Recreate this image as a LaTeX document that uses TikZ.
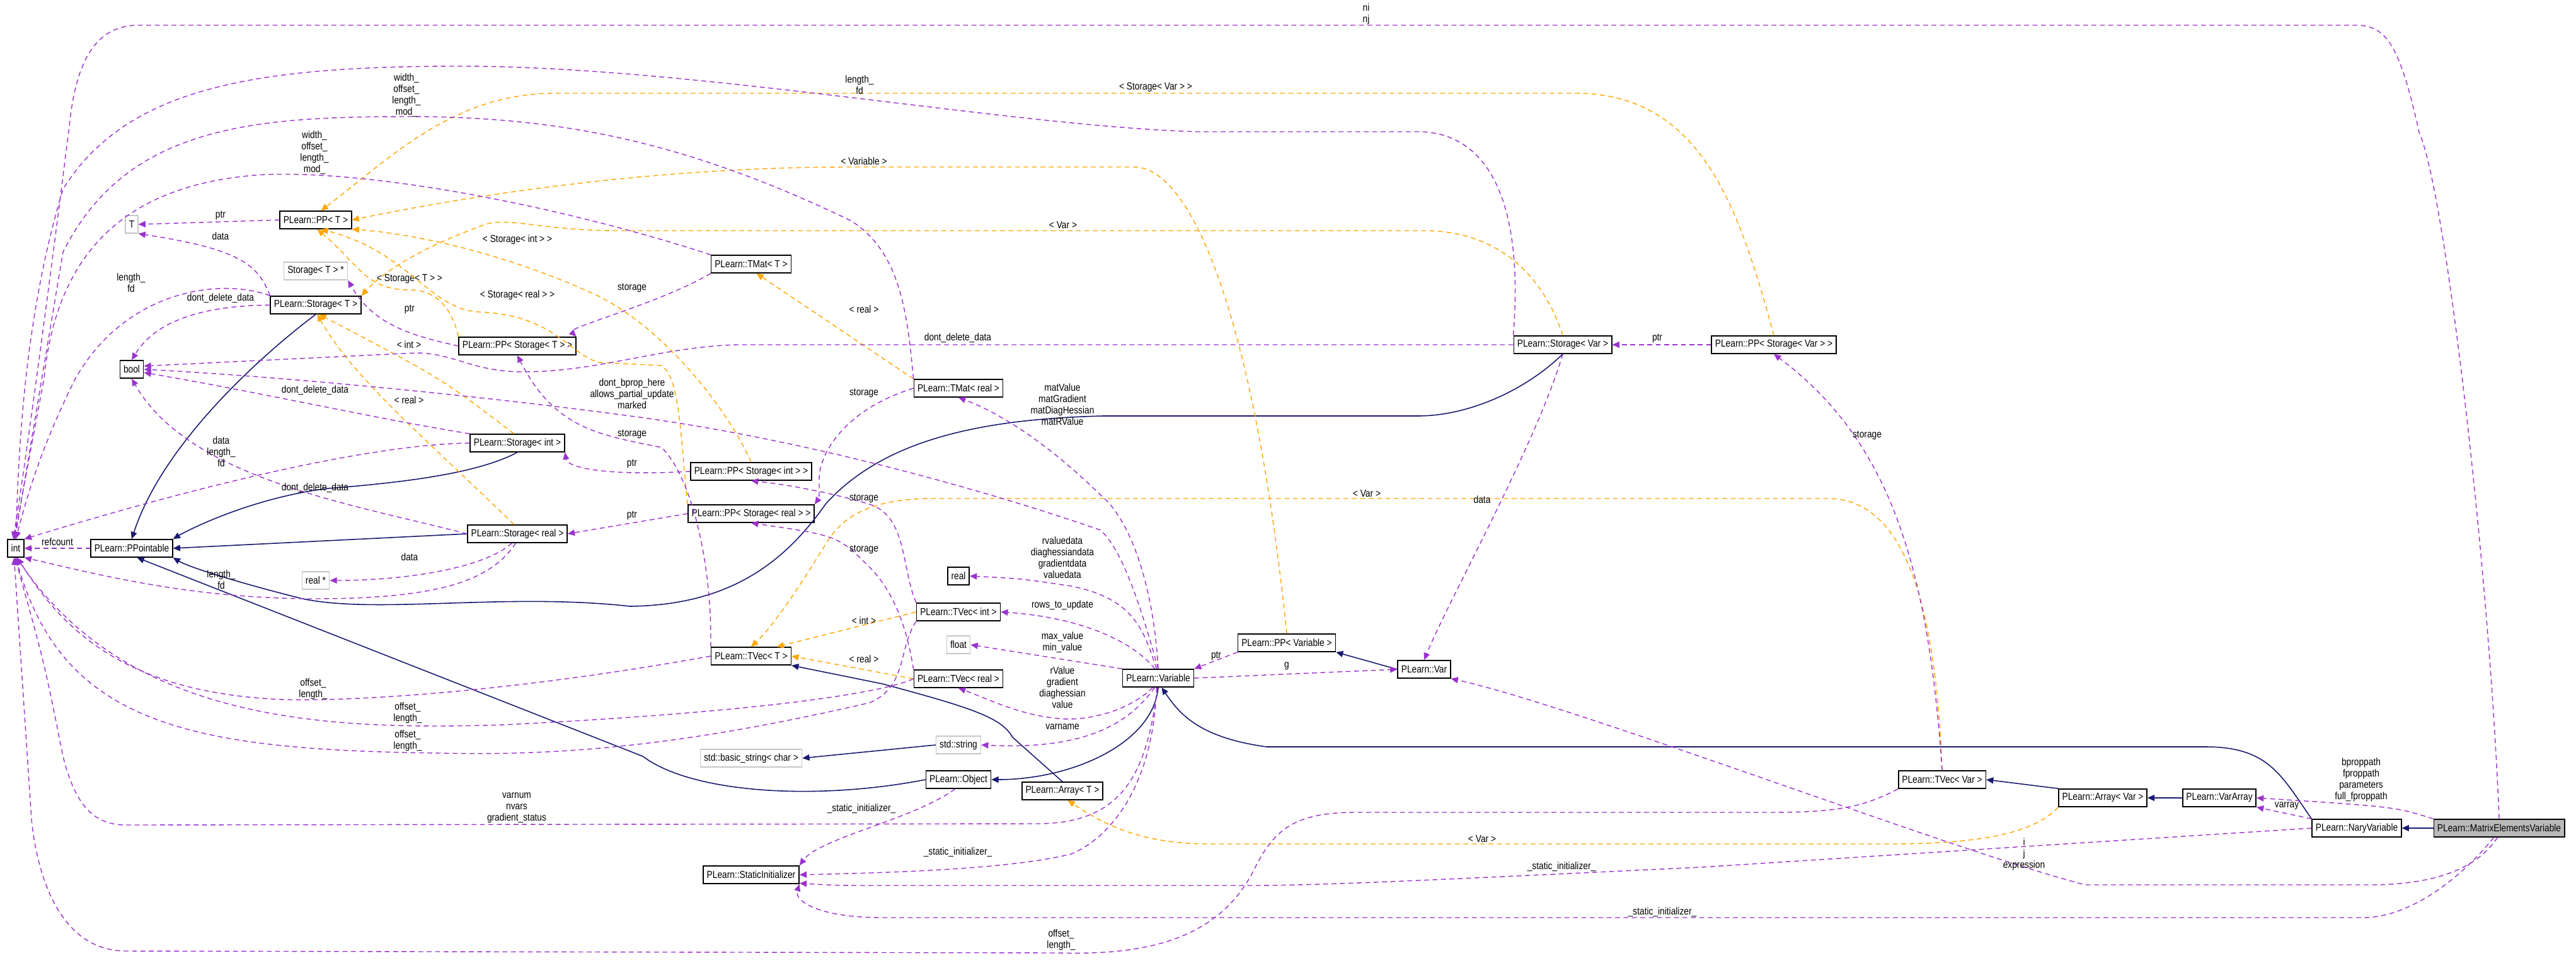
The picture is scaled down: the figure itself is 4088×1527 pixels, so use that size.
\documentclass[tikz,border=0pt]{standalone}
\usepackage{fontspec}
\usetikzlibrary{arrows.meta}
\newfontfamily\lf{Liberation Sans}[FakeStretch=0.85]
\newcommand\lab{\lf\fontsize{4.6}{5.1}\selectfont}
\definecolor{dorch}{HTML}{9A32CD}
\definecolor{navyb}{HTML}{191970}
\definecolor{orng}{HTML}{FFA500}
\tikzset{
 box/.style={draw, line width=0.45pt, minimum height=0.28cm, inner xsep=1.6pt, inner ysep=0pt, font=\lab, fill=white},
 gbox/.style={box, draw=gray!45},
 mem/.style={draw=dorch, line width=0.4pt, dash pattern=on 2.2pt off 1.6pt, -{Triangle[length=3.2pt,width=2.8pt]}},
 tpl/.style={draw=orng, line width=0.4pt, dash pattern=on 2.2pt off 1.6pt, -{Triangle[length=3.2pt,width=2.8pt]}},
 inh/.style={draw=navyb, line width=0.45pt, -{Triangle[length=3.2pt,width=2.8pt]}},
 lbl/.style={font=\lab, align=center, inner sep=0pt}
}
\begin{document}
\begin{tikzpicture}[x=0.01cm,y=-0.01cm]
\useasboundingbox (0,0) rectangle (4088,1527);
% nodes
\node[box] (int) at (25,870) {int};
\node[box] (ppt) at (209,870) {PLearn::PPointable};
\node[gbox] (tT) at (209,356) {T};
\node[box] (ppT) at (501,349) {PLearn::PP< T >};
\node[gbox] (sTp) at (501,430) {Storage< T > *};
\node[box] (sT) at (501,484) {PLearn::Storage< T >};
\node[box] (bool) at (209,586) {bool};
\node[box] (ppST) at (821,549) {PLearn::PP< Storage< T > >};
\node[box] (sI) at (821,703) {PLearn::Storage< int >};
\node[box] (sR) at (821,847) {PLearn::Storage< real >};
\node[gbox] (realp) at (501,921) {real *};
\node[box] (tmT) at (1192,419) {PLearn::TMat< T >};
\node[box] (tmR) at (1521,616) {PLearn::TMat< real >};
\node[box] (ppSI) at (1192,748) {PLearn::PP< Storage< int > >};
\node[box] (ppSR) at (1192,815) {PLearn::PP< Storage< real > >};
\node[box] (real) at (1521,914) {real};
\node[box] (tvI) at (1521,971) {PLearn::TVec< int >};
\node[gbox] (float) at (1521,1023) {float};
\node[box] (tvT) at (1192,1041) {PLearn::TVec< T >};
\node[box] (tvR) at (1521,1077) {PLearn::TVec< real >};
\node[box] (var) at (1838,1076) {PLearn::Variable};
\node[box] (ppV) at (2042,1020) {PLearn::PP< Variable >};
\node[box] (Var) at (2260,1062) {PLearn::Var};
\node[box] (sV) at (2480,547) {PLearn::Storage< Var >};
\node[box] (ppSV) at (2815,547) {PLearn::PP< Storage< Var > >};
\node[gbox] (str) at (1521,1182) {std::string};
\node[gbox] (bstr) at (1192,1203) {std::basic\_string< char >};
\node[box] (obj) at (1521,1237) {PLearn::Object};
\node[box] (arrT) at (1686,1255) {PLearn::Array< T >};
\node[box] (si) at (1192,1388) {PLearn::StaticInitializer};
\node[box] (tV) at (3082,1237) {PLearn::TVec< Var >};
\node[box] (aV) at (3337,1266) {PLearn::Array< Var >};
\node[box] (va) at (3522,1266) {PLearn::VarArray};
\node[box] (nary) at (3740,1314) {PLearn::NaryVariable};
\node[box, fill=gray!55] (mev) at (3966,1314) {PLearn::MatrixElementsVariable};

% inheritance
\draw[inh] (sT.south) .. controls (420,560) and (260,700) .. (ppt.north);
\draw[inh] (sI.south) .. controls (760,750) and (650,765) .. (520,775) .. controls (400,790) and (300,840) .. (ppt.north east);
\draw[inh] (sR.west) -- (ppt.east);
\draw[inh] (sV.south) .. controls (2420,620) and (2330,660) .. (2250,660) -- (1750,660) .. controls (1550,665) and (1400,700) .. (1310,800) .. controls (1240,900) and (1150,960) .. (1000,962) .. controls (800,940) and (600,975) .. (480,950) .. controls (380,925) and (300,900) .. (ppt.south east);
\draw[inh] (obj.west) .. controls (1300,1270) and (1100,1260) .. (1020,1200) -- (ppt.-60);
\draw[inh] (arrT.north) -- (1607,1170) .. controls (1590,1140) and (1550,1125) .. (1400,1085) -- (tvT.south east);
\draw[inh] (var.south) .. controls (1830,1180) and (1700,1237) .. (obj.east);
\draw[inh] (str.west) -- (bstr.east);
\draw[inh] (Var.west) -- (ppV.south east);
\draw[inh] (nary.north west) .. controls (3620,1230) and (3600,1185) .. (3500,1185) -- (2010,1185) .. controls (1900,1170) and (1870,1130) .. (var.-70);
\draw[inh] (mev.west) -- (nary.east);
\draw[inh] (va.west) -- (aV.east);
\draw[inh] (aV.north west) -- (tV.east);

% templates
\draw[tpl] (ppSV.north) .. controls (2760,330) and (2700,148) .. (2500,148) -- (880,148) .. controls (720,148) and (620,250) .. (ppT.60);
\node[lbl] at (1834,139) {< Storage< Var > >};
\draw[tpl] (ppV.north) .. controls (1990,500) and (1890,265) .. (1800,265) -- (1350,265) .. controls (1000,265) and (700,320) .. (ppT.east);
\node[lbl] at (1371,256) {< Variable >};
\draw[tpl] (sV.north) .. controls (2450,440) and (2380,366) .. (2260,366) -- (980,366) .. controls (850,366) and (800,340) .. (760,360) .. controls (650,400) and (600,440) .. (sT.north east);
\node[lbl] at (1687,357) {< Var >};
\draw[tpl] (ppSI.north) .. controls (1150,640) and (1050,520) .. (950,470) .. controls (800,400) and (650,370) .. (ppT.south east);
\node[lbl] at (821,380) {< Storage< int > >};
\draw[tpl] (ppST.north west) .. controls (720,500) and (700,460) .. (650,460) .. controls (580,460) and (570,420) .. (ppT.-80);
\node[lbl] at (650,443) {< Storage< T > >};
\draw[tpl] (ppSR.north west) .. controls (1080,700) and (1080,600) .. (1050,580) -- (950,575) .. controls (900,560) and (880,500) .. (760,495) .. controls (680,490) and (650,400) .. (ppT.-60);
\node[lbl] at (821,468) {< Storage< real > >};
\draw[tpl] (sI.110) .. controls (700,600) .. (sT.-70);
\node[lbl] at (649,547) {< int >};
\draw[tpl] (sR.110) .. controls (680,700) and (560,600) .. (sT.-80);
\node[lbl] at (649,635) {< real >};
\draw[tpl] (tmR.north west) -- (tmT.-60);
\node[lbl] at (1371,491) {< real >};
\draw[tpl] (tvI.west) -- (tvT.20);
\node[lbl] at (1371,985) {< int >};
\draw[tpl] (tvR.west) -- (tvT.east);
\node[lbl] at (1371,1046) {< real >};
\draw[tpl] (tV.north) .. controls (3070,900) and (3000,791) .. (2900,791) -- (1480,791) .. controls (1340,791) and (1320,850) .. (1300,880) .. controls (1250,960) and (1220,1000) .. (tvT.north);
\node[lbl] at (2169,783) {< Var >};
\draw[tpl] (aV.south west) .. controls (3230,1320) and (3150,1339) .. (3000,1339) -- (1917,1339) .. controls (1800,1339) and (1740,1300) .. (arrT.-60);
\node[lbl] at (2352,1331) {< Var >};

% members
\draw[mem] (ppT.west) -- (tT.east); \node[lbl] at (350,342) {ptr};
\draw[mem] (sT.north west) .. controls (410,420) and (380,395) .. (tT.south east); \node[lbl] at (350,375) {data};
\draw[mem] (ppST.west) .. controls (640,530) and (590,510) .. (sTp.south east); \node[lbl] at (650,491) {ptr};
\draw[mem] (sT.west) .. controls (300,485) and (240,520) .. (bool.north); \node[lbl] at (350,473) {dont\_delete\_data};
\draw[mem] (sT.north west) .. controls (350,440) and (200,460) .. (120,600) .. controls (60,720) and (40,800) .. (int.north); \node[lbl] at (208,449) {length\_\\fd};
\draw[mem] (tmT.south west) .. controls (1050,480) and (900,520) .. (ppST.north east); \node[lbl] at (1003,457) {storage};
\draw[mem] (tmT.north west) .. controls (900,330) and (600,270) .. (420,277) .. controls (200,290) and (90,400) .. (70,600) -- (int.100); \node[lbl] at (499,242) {width\_\\offset\_\\length\_\\mod\_};
\draw[mem] (tmR.north west) .. controls (1440,500) and (1430,400) .. (1350,350) .. controls (1100,230) and (900,185) .. (650,185) .. controls (400,185) and (200,200) .. (100,400) -- (int.95); \node[lbl] at (645,151) {width\_\\offset\_\\length\_\\mod\_};
\draw[mem] (sV.north west) .. controls (2420,300) and (2350,209) .. (2250,209) -- (1900,209) .. controls (1600,200) and (1100,105) .. (730,105) .. controls (400,105) and (200,140) .. (100,300) .. controls (40,500) and (30,700) .. (int.north); \node[lbl] at (1364,135) {length\_\\fd};
\draw[mem] (sV.west) -- (1170,547) .. controls (1050,550) and (950,590) .. (830,590) .. controls (750,590) and (720,560) .. (660,560) -- (bool.15); \node[lbl] at (1520,536) {dont\_delete\_data};
\draw[mem] (ppSV.west) -- (sV.east); \node[lbl] at (2630,537) {ptr};
\draw[mem] (sV.south) .. controls (2440,700) and (2300,950) .. (Var.north); \node[lbl] at (2352,793) {data};
\draw[mem] (tV.north) .. controls (3060,900) and (3000,700) .. (ppSV.south); \node[lbl] at (2963,691) {storage};
\draw[mem] (var.north) .. controls (1810,960) and (1780,870) .. (1746,841) .. controls (1600,790) and (1300,700) .. (1000,660) .. controls (700,620) and (400,595) .. (bool.east); \node[lbl] at (1003,625) {dont\_bprop\_here\\allows\_partial\_update\\marked};
\draw[mem] (sI.north west) .. controls (600,665) and (400,620) .. (bool.-15); \node[lbl] at (500,619) {dont\_delete\_data};
\draw[mem] (sR.west) .. controls (560,800) and (300,760) .. (bool.south); \node[lbl] at (500,774) {dont\_delete\_data};
\draw[mem] (sI.west) .. controls (600,705) and (350,760) .. (int.north east); \node[lbl] at (351,717) {data\\length\_\\fd};
\draw[mem] (sR.-120) .. controls (770,900) and (650,921) .. (realp.east); \node[lbl] at (650,884) {data};
\draw[mem] (sR.-100) .. controls (780,920) and (700,950) .. (500,950) .. controls (300,950) and (150,910) .. (int.south east); \node[lbl] at (351,920) {length\_\\fd};
\draw[mem] (ppt.west) -- (int.east); \node[lbl] at (91,860) {refcount};
\draw[mem] (ppSI.west) .. controls (950,756) and (900,740) .. (sI.south east); \node[lbl] at (1003,736) {ptr};
\draw[mem] (ppSR.west) -- (sR.east); \node[lbl] at (1003,818) {ptr};
\draw[mem] (tmR.west) .. controls (1340,650) and (1300,720) .. (1300,760) .. controls (1300,790) .. (ppSR.north east); \node[lbl] at (1371,624) {storage};
\draw[mem] (tvI.north west) .. controls (1430,900) and (1440,820) .. (1380,800) .. controls (1330,785) and (1260,770) .. (ppSI.south); \node[lbl] at (1371,791) {storage};
\draw[mem] (tvR.north west) .. controls (1440,1000) and (1420,940) .. (1380,900) .. controls (1330,850) .. (ppSR.south); \node[lbl] at (1371,872) {storage};
\draw[mem] (tvT.north west) .. controls (1130,900) and (1100,760) .. (1050,710) .. controls (950,690) and (880,680) .. (ppST.south); \node[lbl] at (1003,689) {storage};
\draw[mem] (tvT.west) .. controls (800,1100) and (550,1113) .. (450,1110) .. controls (200,1100) and (100,1000) .. (int.-80); \node[lbl] at (497,1093) {offset\_\\length\_};
\draw[mem] (tvR.west) .. controls (1400,1100) and (1200,1130) .. (800,1150) .. controls (500,1160) and (200,1140) .. (int.-85); \node[lbl] at (647,1131) {offset\_\\length\_};
\draw[mem] (tvI.south west) .. controls (1425,1030) and (1440,1090) .. (1380,1115) .. controls (1100,1180) and (900,1200) .. (700,1195) .. controls (300,1190) and (100,1150) .. (int.-90); \node[lbl] at (647,1175) {offset\_\\length\_};
\draw[mem] (var.100) .. controls (1815,1000) and (1800,950) .. (1700,930) .. controls (1620,918) .. (real.east); \node[lbl] at (1686,885) {rvaluedata\\diaghessiandata\\gradientdata\\valuedata};
\draw[mem] (var.110) .. controls (1800,1020) and (1720,980) .. (tvI.east); \node[lbl] at (1686,960) {rows\_to\_update};
\draw[mem] (var.north west) -- (float.east); \node[lbl] at (1686,1019) {max\_value\\min\_value};
\draw[mem] (var.-120) .. controls (1790,1130) and (1720,1145) .. (1680,1140) .. controls (1620,1135) and (1570,1110) .. (tvR.south); \node[lbl] at (1686,1091) {rValue\\gradient\\diaghessian\\value};
\draw[mem] (var.-110) .. controls (1790,1150) and (1720,1190) .. (str.east); \node[lbl] at (1686,1153) {varname};
\draw[mem] (var.north) .. controls (1830,920) and (1790,820) .. (1746,785) .. controls (1680,720) and (1600,660) .. (tmR.south); \node[lbl] at (1686,642) {matValue\\matGradient\\matDiagHessian\\matRValue};
\draw[mem] (ppV.south west) -- (var.north east); \node[lbl] at (1930,1041) {ptr};
\draw[mem] (var.east) -- (Var.west); \node[lbl] at (2042,1057) {g};
\draw[mem] (obj.-110) .. controls (1450,1300) and (1300,1330) .. (si.north east); \node[lbl] at (1367,1283) {\_static\_initializer\_};
\draw[mem] (var.-100) .. controls (1830,1250) and (1760,1330) .. (1700,1355) .. controls (1600,1380) and (1400,1385) .. (si.east); \node[lbl] at (1520,1352) {\_static\_initializer\_};
\draw[mem] (var.-95) .. controls (1820,1230) and (1780,1305) .. (1650,1307) -- (200,1309) .. controls (150,1309) and (120,1280) .. (100,1200) .. controls (70,1050) .. (int.-95); \node[lbl] at (820,1282) {varnum\\nvars\\gradient\_status};
\draw[mem] (nary.west) -- (2700,1376) .. controls (2300,1395) and (2100,1405) .. (1987,1405) -- (1400,1405) .. controls (1330,1405) .. (si.-10); \node[lbl] at (2478,1375) {\_static\_initializer\_};
\draw[mem] (mev.-120) .. controls (3900,1400) and (3820,1456) .. (3750,1456) -- (1400,1456) .. controls (1300,1456) and (1260,1430) .. (si.south east); \node[lbl] at (2638,1447) {\_static\_initializer\_};
\draw[mem] (mev.north west) .. controls (3800,1280) .. (va.east); \node[lbl] at (3747,1237) {bproppath\\fproppath\\parameters\\full\_fproppath};
\draw[mem] (nary.north west) -- (va.south east); \node[lbl] at (3629,1279) {varray};
\draw[mem] (mev.-100) .. controls (3930,1380) and (3860,1404) .. (3760,1404) -- (3309,1404) .. controls (3100,1350) and (2500,1120) .. (Var.south east); \node[lbl] at (3212,1355) {i\\j\\expression};
\draw[mem] (tV.south west) .. controls (2950,1285) and (2900,1289) .. (2800,1289) -- (2150,1289) .. controls (2050,1289) and (2020,1320) .. (1990,1380) .. controls (1930,1500) and (1800,1515) .. (1680,1512) -- (200,1509) .. controls (100,1509) and (60,1400) .. (50,1300) -- (int.-100); \node[lbl] at (1684,1491) {offset\_\\length\_};
\draw[mem] (mev.north) .. controls (3950,900) and (3880,300) .. (3839,210) .. controls (3810,80) and (3790,40) .. (3740,40) -- (220,40) .. controls (150,40) and (120,100) .. (110,200) .. controls (60,600) and (30,800) .. (int.105); \node[lbl] at (2168,22) {ni\\nj};
\end{tikzpicture}
\end{document}
